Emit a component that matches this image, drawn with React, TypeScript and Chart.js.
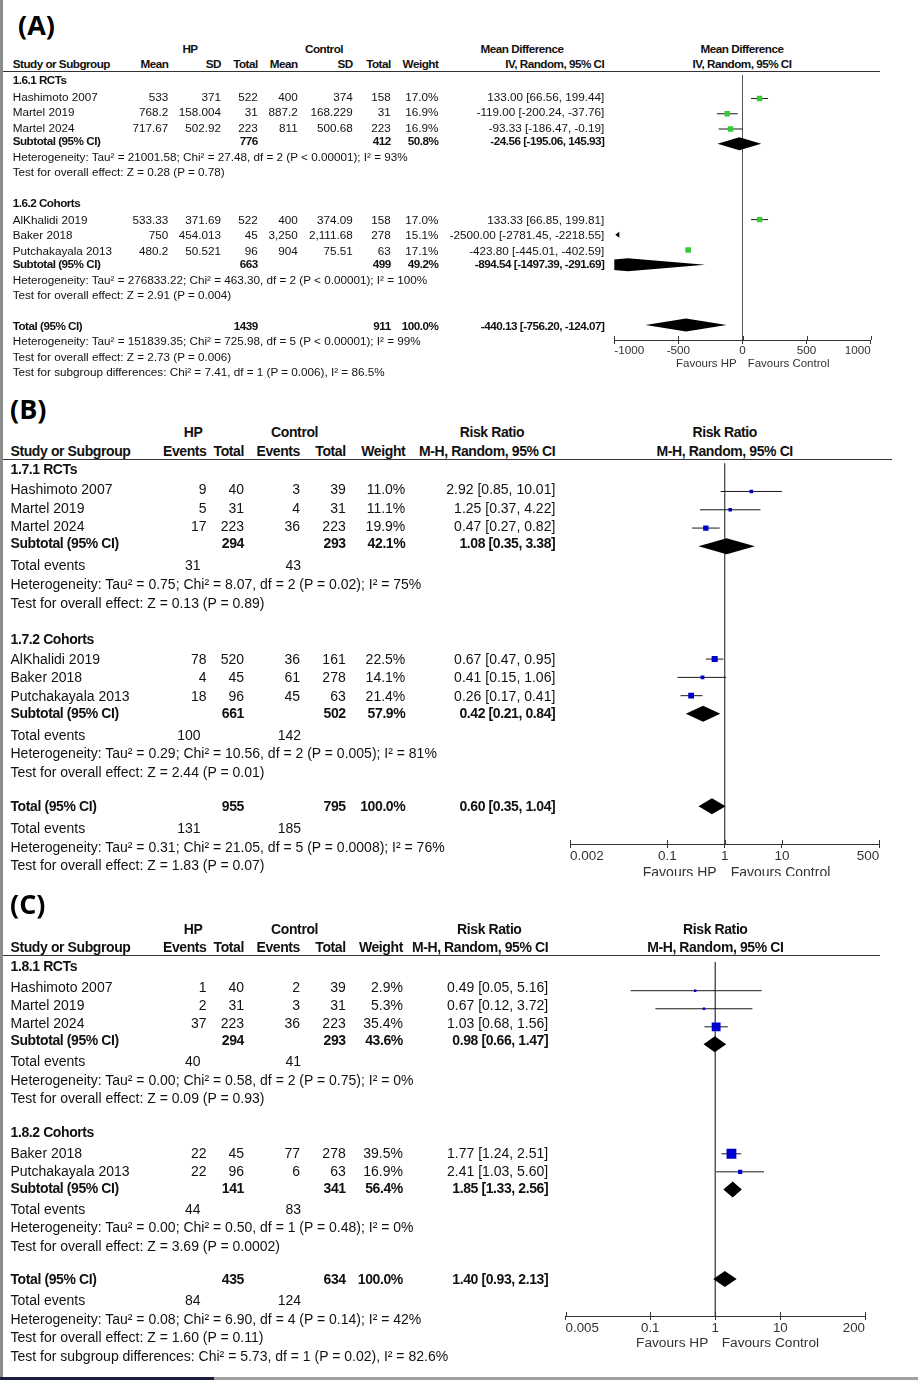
import React, { useEffect, useRef } from 'react';
import { Chart, registerables } from 'chart.js';
Chart.register(...registerables);

const FONT = "'Liberation Sans', Arial, Helvetica, sans-serif";
const LABEL_FONT = "'Open Sans', 'Noto Sans', sans-serif";
const W = 918;
const AXIS_H = 26;

// ================= Panel A : Mean Difference =================
const aStudy = ['Hashimoto 2007', 'Martel 2019', 'Martel 2024', 'AlKhalidi 2019', 'Baker 2018', 'Putchakayala 2013'];
const aGroupOf = [0, 0, 0, 1, 1, 1];
const aHpMean = ['533', '768.2', '717.67', '533.33', '750', '480.2'];
const aHpSD = ['371', '158.004', '502.92', '371.69', '454.013', '50.521'];
const aHpN = ['522', '31', '223', '522', '45', '96'];
const aCtMean = ['400', '887.2', '811', '400', '3,250', '904'];
const aCtSD = ['374', '168.229', '500.68', '374.09', '2,111.68', '75.51'];
const aCtN = ['158', '31', '223', '158', '278', '63'];
const aWeight = [17.0, 16.9, 16.9, 17.0, 15.1, 17.1];
const aMD = [133.0, -119.0, -93.33, 133.33, -2500.0, -423.8];
const aLo = [66.56, -200.24, -186.47, 66.85, -2781.45, -445.01];
const aHi = [199.44, -37.76, -0.19, 199.81, -2218.55, -402.59];
const aGroups = ['1.6.1 RCTs', '1.6.2 Cohorts'];
const aSubHpN = ['776', '663'];
const aSubCtN = ['412', '499'];
const aSubWeight = [50.8, 49.2];
const aSubMD = [-24.56, -894.54];
const aSubLo = [-195.06, -1497.39];
const aSubHi = [145.93, -291.69];
const aSubHet = [
  'Heterogeneity: Tau² = 21001.58; Chi² = 27.48, df = 2 (P < 0.00001); I² = 93%',
  'Heterogeneity: Tau² = 276833.22; Chi² = 463.30, df = 2 (P < 0.00001); I² = 100%',
];
const aSubTest = ['Test for overall effect: Z = 0.28 (P = 0.78)', 'Test for overall effect: Z = 2.91 (P = 0.004)'];
const aTotN = ['1439', '911'];
const aTotEff = [-440.13, -756.2, -124.07];
const aTotInfo = [
  'Heterogeneity: Tau² = 151839.35; Chi² = 725.98, df = 5 (P < 0.00001); I² = 99%',
  'Test for overall effect: Z = 2.73 (P = 0.006)',
  'Test for subgroup differences: Chi² = 7.41, df = 1 (P = 0.006), I² = 86.5%',
];
const aTicks = [-1000, -500, 0, 500, 1000];

// ================= Panel B : Risk Ratio =================
const bStudy = ['Hashimoto 2007', 'Martel 2019', 'Martel 2024', 'AlKhalidi 2019', 'Baker 2018', 'Putchakayala 2013'];
const bGroupOf = [0, 0, 0, 1, 1, 1];
const bHpEv = ['9', '5', '17', '78', '4', '18'];
const bHpN = ['40', '31', '223', '520', '45', '96'];
const bCtEv = ['3', '4', '36', '36', '61', '45'];
const bCtN = ['39', '31', '223', '161', '278', '63'];
const bWeight = [11.0, 11.1, 19.9, 22.5, 14.1, 21.4];
const bRR = [2.92, 1.25, 0.47, 0.67, 0.41, 0.26];
const bLo = [0.85, 0.37, 0.27, 0.47, 0.15, 0.17];
const bHi = [10.01, 4.22, 0.82, 0.95, 1.06, 0.41];
const bGroups = ['1.7.1 RCTs', '1.7.2 Cohorts'];
const bSubHpN = ['294', '661'];
const bSubCtN = ['293', '502'];
const bSubWeight = [42.1, 57.9];
const bSubRR = [1.08, 0.42];
const bSubLo = [0.35, 0.21];
const bSubHi = [3.38, 0.84];
const bSubHpEv = ['31', '100'];
const bSubCtEv = ['43', '142'];
const bSubHet = [
  'Heterogeneity: Tau² = 0.75; Chi² = 8.07, df = 2 (P = 0.02); I² = 75%',
  'Heterogeneity: Tau² = 0.29; Chi² = 10.56, df = 2 (P = 0.005); I² = 81%',
];
const bSubTest = ['Test for overall effect: Z = 0.13 (P = 0.89)', 'Test for overall effect: Z = 2.44 (P = 0.01)'];
const bTotN = ['955', '795'];
const bTotEff = [0.6, 0.35, 1.04];
const bTotEv = ['131', '185'];
const bTotInfo = [
  'Heterogeneity: Tau² = 0.31; Chi² = 21.05, df = 5 (P = 0.0008); I² = 76%',
  'Test for overall effect: Z = 1.83 (P = 0.07)',
];
const bTicks = [0.002, 0.1, 1, 10, 500];

// ================= Panel C : Risk Ratio =================
const cStudy = ['Hashimoto 2007', 'Martel 2019', 'Martel 2024', 'Baker 2018', 'Putchakayala 2013'];
const cGroupOf = [0, 0, 0, 1, 1];
const cHpEv = ['1', '2', '37', '22', '22'];
const cHpN = ['40', '31', '223', '45', '96'];
const cCtEv = ['2', '3', '36', '77', '6'];
const cCtN = ['39', '31', '223', '278', '63'];
const cWeight = [2.9, 5.3, 35.4, 39.5, 16.9];
const cRR = [0.49, 0.67, 1.03, 1.77, 2.41];
const cLo = [0.05, 0.12, 0.68, 1.24, 1.03];
const cHi = [5.16, 3.72, 1.56, 2.51, 5.6];
const cGroups = ['1.8.1 RCTs', '1.8.2 Cohorts'];
const cSubHpN = ['294', '141'];
const cSubCtN = ['293', '341'];
const cSubWeight = [43.6, 56.4];
const cSubRR = [0.98, 1.85];
const cSubLo = [0.66, 1.33];
const cSubHi = [1.47, 2.56];
const cSubHpEv = ['40', '44'];
const cSubCtEv = ['41', '83'];
const cSubHet = [
  'Heterogeneity: Tau² = 0.00; Chi² = 0.58, df = 2 (P = 0.75); I² = 0%',
  'Heterogeneity: Tau² = 0.00; Chi² = 0.50, df = 1 (P = 0.48); I² = 0%',
];
const cSubTest = ['Test for overall effect: Z = 0.09 (P = 0.93)', 'Test for overall effect: Z = 3.69 (P = 0.0002)'];
const cTotN = ['435', '634'];
const cTotEff = [1.4, 0.93, 2.13];
const cTotEv = ['84', '124'];
const cTotInfo = [
  'Heterogeneity: Tau² = 0.08; Chi² = 6.90, df = 4 (P = 0.14); I² = 42%',
  'Test for overall effect: Z = 1.60 (P = 0.11)',
  'Test for subgroup differences: Chi² = 5.73, df = 1 (P = 0.02), I² = 82.6%',
];
const cTicks = [0.005, 0.1, 1, 10, 200];

// ================= helpers =================
type Align = 'left' | 'right' | 'center';
interface Item { x: number; align: Align; text: string; bold?: boolean; y?: number }
interface Mark { est: number; lo: number; hi: number; w?: number; y?: number }
interface Row { kind: string; items: Item[]; study?: Mark; diamond?: Mark; y?: number }

const effText = (e: number, l: number, h: number) => `${e.toFixed(2)} [${l.toFixed(2)}, ${h.toFixed(2)}]`;
const pct = (w: number) => `${w.toFixed(1)}%`;
const it = (x: number, text: string, align: Align = 'right', bold = false): Item => ({ x, text, align, bold });

function layoutRows(rows: Row[], startY: number, gaps: Record<string, number>): Row[] {
  let y = startY;
  let prev = '';
  return rows.map((r, i) => {
    if (i > 0) {
      let key = r.kind;
      if (r.kind === 'study' && prev === 'group') key = 'study1';
      if (r.kind === 'info' && prev === 'info') key = 'info2';
      y += gaps[key];
    }
    prev = r.kind;
    return { ...r, y };
  });
}

function buildRowsA(L: { nameX: number; cols: number[]; eff: number }): Row[] {
  const rows: Row[] = [];
  aGroups.forEach((g, gi) => {
    rows.push({ kind: 'group', items: [it(L.nameX, g, 'left', true)] });
    aStudy.forEach((name, i) => {
      if (aGroupOf[i] !== gi) return;
      const vals = [aHpMean[i], aHpSD[i], aHpN[i], aCtMean[i], aCtSD[i], aCtN[i], pct(aWeight[i])];
      rows.push({
        kind: 'study',
        items: [it(L.nameX, name, 'left'), ...vals.map((v, k) => it(L.cols[k], v)), it(L.eff, effText(aMD[i], aLo[i], aHi[i]))],
        study: { est: aMD[i], lo: aLo[i], hi: aHi[i], w: aWeight[i] },
      });
    });
    rows.push({
      kind: 'sub',
      items: [
        it(L.nameX, 'Subtotal (95% CI)', 'left', true),
        it(L.cols[2], aSubHpN[gi], 'right', true),
        it(L.cols[5], aSubCtN[gi], 'right', true),
        it(L.cols[6], pct(aSubWeight[gi]), 'right', true),
        it(L.eff, effText(aSubMD[gi], aSubLo[gi], aSubHi[gi]), 'right', true),
      ],
      diamond: { est: aSubMD[gi], lo: aSubLo[gi], hi: aSubHi[gi] },
    });
    rows.push({ kind: 'info', items: [it(L.nameX, aSubHet[gi], 'left')] });
    rows.push({ kind: 'info', items: [it(L.nameX, aSubTest[gi], 'left')] });
  });
  rows.push({
    kind: 'total',
    items: [
      it(L.nameX, 'Total (95% CI)', 'left', true),
      it(L.cols[2], aTotN[0], 'right', true),
      it(L.cols[5], aTotN[1], 'right', true),
      it(L.cols[6], pct(100), 'right', true),
      it(L.eff, effText(aTotEff[0], aTotEff[1], aTotEff[2]), 'right', true),
    ],
    diamond: { est: aTotEff[0], lo: aTotEff[1], hi: aTotEff[2] },
  });
  aTotInfo.forEach((t) => rows.push({ kind: 'info', items: [it(L.nameX, t, 'left')] }));
  return rows;
}

function buildRowsRR(d: any, L: { nameX: number; cols: number[]; eff: number; te: number[] }): Row[] {
  const rows: Row[] = [];
  d.groups.forEach((g: string, gi: number) => {
    rows.push({ kind: 'group', items: [it(L.nameX, g, 'left', true)] });
    d.study.forEach((name: string, i: number) => {
      if (d.groupOf[i] !== gi) return;
      rows.push({
        kind: 'study',
        items: [
          it(L.nameX, name, 'left'),
          it(L.cols[0], d.hpEv[i]),
          it(L.cols[1], d.hpN[i]),
          it(L.cols[2], d.ctEv[i]),
          it(L.cols[3], d.ctN[i]),
          it(L.cols[4], pct(d.weight[i])),
          it(L.eff, effText(d.rr[i], d.lo[i], d.hi[i])),
        ],
        study: { est: d.rr[i], lo: d.lo[i], hi: d.hi[i], w: d.weight[i] },
      });
    });
    rows.push({
      kind: 'sub',
      items: [
        it(L.nameX, 'Subtotal (95% CI)', 'left', true),
        it(L.cols[1], d.subHpN[gi], 'right', true),
        it(L.cols[3], d.subCtN[gi], 'right', true),
        it(L.cols[4], pct(d.subWeight[gi]), 'right', true),
        it(L.eff, effText(d.subRR[gi], d.subLo[gi], d.subHi[gi]), 'right', true),
      ],
      diamond: { est: d.subRR[gi], lo: d.subLo[gi], hi: d.subHi[gi] },
    });
    rows.push({ kind: 'te', items: [it(L.nameX, 'Total events', 'left'), it(L.te[0], d.subHpEv[gi]), it(L.te[1], d.subCtEv[gi])] });
    rows.push({ kind: 'info', items: [it(L.nameX, d.subHet[gi], 'left')] });
    rows.push({ kind: 'info', items: [it(L.nameX, d.subTest[gi], 'left')] });
  });
  rows.push({
    kind: 'total',
    items: [
      it(L.nameX, 'Total (95% CI)', 'left', true),
      it(L.cols[1], d.totN[0], 'right', true),
      it(L.cols[3], d.totN[1], 'right', true),
      it(L.cols[4], pct(100), 'right', true),
      it(L.eff, effText(d.totEff[0], d.totEff[1], d.totEff[2]), 'right', true),
    ],
    diamond: { est: d.totEff[0], lo: d.totEff[1], hi: d.totEff[2] },
  });
  rows.push({ kind: 'te', items: [it(L.nameX, 'Total events', 'left'), it(L.te[0], d.totEv[0]), it(L.te[1], d.totEv[1])] });
  d.totInfo.forEach((t: string) => rows.push({ kind: 'info', items: [it(L.nameX, t, 'left')] }));
  return rows;
}

interface ForestSpec {
  xType: 'linear' | 'logarithmic'; xMin: number; xMax: number; ticks: number[]; nullVal: number;
  left: number; right: number; headerY: number; axisY: number; tickSize: number;
  color: string; sizeK: number; minSide: number; dh: number; dyStudy: number; dyDiamond: number;
}

function Forest({ spec, rows, panelTop }: { spec: ForestSpec; rows: Row[]; panelTop: number }) {
  const ref = useRef<HTMLCanvasElement>(null);
  const h = spec.axisY - spec.headerY + AXIS_H;
  useEffect(() => {
    const studies = rows.filter((r) => r.study).map((r) => ({ ...r.study!, y: (r.y as number) + spec.dyStudy }));
    const diamonds = rows.filter((r) => r.diamond).map((r) => ({ ...r.diamond!, y: (r.y as number) + spec.dyDiamond }));
    const side = (w: number) => Math.max(spec.minSide, w * spec.sizeK);
    const datasets: any[] = [
      {
        data: studies.map((s) => ({ x: s.est, y: s.y })),
        pointStyle: 'rect',
        pointRadius: studies.map((s) => side(s.w as number) / (2 * Math.SQRT1_2)),
        backgroundColor: spec.color,
        pointBackgroundColor: spec.color,
        pointBorderWidth: 0,
        borderWidth: 0,
      },
      ...studies.map((s) => ({
        data: [{ x: s.lo, y: s.y }, { x: s.hi, y: s.y }],
        showLine: true,
        borderColor: '#1a1a1a',
        borderWidth: 1,
        pointRadius: 0,
      })),
      {
        data: [{ x: spec.nullVal, y: spec.headerY }, { x: spec.nullVal, y: spec.axisY }],
        showLine: true,
        borderColor: '#555',
        borderWidth: 1,
        pointRadius: 0,
      },
    ];
    const extras = {
      id: 'forestExtras',
      afterDatasetsDraw(chart: any) {
        const { ctx, chartArea, scales } = chart;
        const x = scales.x;
        const y = scales.y;
        ctx.save();
        ctx.beginPath();
        ctx.rect(chartArea.left, chartArea.top, chartArea.right - chartArea.left, chartArea.bottom - chartArea.top);
        ctx.clip();
        ctx.fillStyle = '#000';
        diamonds.forEach((d) => {
          const yc = y.getPixelForValue(d.y);
          ctx.beginPath();
          ctx.moveTo(x.getPixelForValue(d.lo), yc);
          ctx.lineTo(x.getPixelForValue(d.est), yc - spec.dh);
          ctx.lineTo(x.getPixelForValue(d.hi), yc);
          ctx.lineTo(x.getPixelForValue(d.est), yc + spec.dh);
          ctx.closePath();
          ctx.fill();
        });
        ctx.restore();
        // off-scale arrows
        ctx.save();
        ctx.fillStyle = '#000';
        studies.forEach((s) => {
          if (s.hi < spec.xMin) {
            const yc = y.getPixelForValue(s.y);
            const lx = chartArea.left + 1;
            ctx.beginPath();
            ctx.moveTo(lx, yc);
            ctx.lineTo(lx + 4, yc - 3);
            ctx.lineTo(lx + 4, yc + 3);
            ctx.closePath();
            ctx.fill();
          }
        });
        // upper halves of the axis tick marks
        ctx.strokeStyle = '#333';
        ctx.lineWidth = 1;
        spec.ticks.forEach((v) => {
          const px = Math.round(x.getPixelForValue(v)) + 0.5;
          ctx.beginPath();
          ctx.moveTo(px, chartArea.bottom - 4);
          ctx.lineTo(px, chartArea.bottom);
          ctx.stroke();
        });
        ctx.restore();
      },
    };
    const chart = new Chart(ref.current as HTMLCanvasElement, {
      type: 'scatter',
      data: { datasets },
      options: {
        responsive: false,
        animation: false,
        events: [],
        layout: { padding: { left: spec.left, right: W - spec.right, top: 0, bottom: 0 } },
        plugins: { legend: { display: false }, tooltip: { enabled: false } },
        scales: {
          x: {
            type: spec.xType,
            min: spec.xMin,
            max: spec.xMax,
            position: 'bottom',
            afterBuildTicks: (sc: any) => {
              sc.ticks = spec.ticks.map((v) => ({ value: v }));
            },
            afterFit: (sc: any) => {
              sc.height = AXIS_H;
            },
            ticks: {
              callback: (v: any) => String(v),
              font: { family: FONT, size: spec.tickSize },
              color: '#333',
              padding: 0,
              align: 'inner',
              maxRotation: 0,
              minRotation: 0,
              autoSkip: false,
            },
            grid: { drawOnChartArea: false, drawTicks: true, tickLength: 4, color: '#333', lineWidth: 1 },
            border: { display: true, color: '#333', width: 1 },
          },
          y: { type: 'linear', min: spec.headerY, max: spec.axisY, reverse: true, display: false },
        },
      } as any,
      plugins: [extras],
    });
    return () => chart.destroy();
  }, []);
  return (
    <canvas
      ref={ref}
      width={W}
      height={h}
      style={{ position: 'absolute', left: 0, top: spec.headerY - panelTop, width: W, height: h }}
    />
  );
}

function Txt({ item, y, top, size, ls, color, family }: any) {
  const st: React.CSSProperties = {
    position: 'absolute',
    top: y - top,
    whiteSpace: 'pre',
    fontFamily: family || FONT,
    fontSize: size,
    lineHeight: `${size}px`,
    fontWeight: item.bold ? 700 : 400,
    color: color || '#111',
    letterSpacing: item.bold ? ls : 0,
    transform: 'translateY(-50%)',
  };
  if (item.align === 'left') st.left = item.x;
  else if (item.align === 'right') st.right = W - item.x;
  else {
    st.left = item.x;
    st.transform = 'translate(-50%, -50%)';
  }
  return <div style={st}>{item.text}</div>;
}

function Panel({ p }: { p: any }) {
  return (
    <div style={{ position: 'absolute', left: 0, top: p.top, width: W, height: p.height, overflow: 'hidden' }}>
      <Forest spec={p.forest} rows={p.rows} panelTop={p.top} />
      <div style={{ position: 'absolute', left: 3, top: Math.round(p.lineY - p.top), width: p.lineX2 - 3, height: 1, background: '#333' }} />
      <Txt item={{ x: p.labelX, align: 'left', text: p.label, bold: true }} y={p.labelY} top={p.top} size={27} ls={0} color="#000" family={LABEL_FONT} />
      {p.headers.map((h: Item, i: number) => (
        <Txt key={'h' + i} item={h} y={h.y} top={p.top} size={p.size} ls={p.boldLS} />
      ))}
      {p.rows.map((r: Row, ri: number) =>
        r.items.map((c, ci) => <Txt key={ri + '-' + ci} item={c} y={r.y} top={p.top} size={p.size} ls={p.boldLS} />)
      )}
      <Txt item={{ x: p.fav.hpRight, align: 'right', text: 'Favours HP' }} y={p.fav.y} top={p.top} size={p.fav.size} color="#333" />
      <Txt item={{ x: p.fav.ctlLeft, align: 'left', text: 'Favours Control' }} y={p.fav.y} top={p.top} size={p.fav.size} color="#333" />
    </div>
  );
}

const aLayout = { nameX: 12.7, cols: [168.3, 221, 257.7, 297.7, 352.7, 390.7, 438.3], eff: 604.3 };
const bLayout = { nameX: 10.5, cols: [206.5, 244, 300, 345.7, 405.3], eff: 555.3, te: [200.5, 301] };
const cLayout = { nameX: 10.5, cols: [206.5, 244, 300, 345.7, 402.9], eff: 548.2, te: [200.5, 301] };

function headerItems(y1: number, y2: number, L: any, top1: [string, number][], colNames: string[], effHead: [string, string], effHeadX: number, plotX: number, nameX: number): Item[] {
  const out: Item[] = top1.map(([t, x]) => ({ x, y: y1, text: t, align: 'center' as Align, bold: true }));
  out.push({ x: effHeadX, y: y1, text: effHead[0], align: 'center', bold: true });
  out.push({ x: plotX, y: y1, text: effHead[0], align: 'center', bold: true });
  out.push({ x: nameX, y: y2, text: 'Study or Subgroup', align: 'left', bold: true });
  colNames.forEach((c, k) => out.push({ x: L.cols[k], y: y2, text: c, align: 'right', bold: true }));
  out.push({ x: L.eff, y: y2, text: effHead[1], align: 'right', bold: true });
  out.push({ x: plotX, y: y2, text: effHead[1], align: 'center', bold: true });
  return out;
}

function buildPanels() {
  const dataB = {
    study: bStudy, groupOf: bGroupOf, hpEv: bHpEv, hpN: bHpN, ctEv: bCtEv, ctN: bCtN, weight: bWeight, rr: bRR, lo: bLo, hi: bHi,
    groups: bGroups, subHpN: bSubHpN, subCtN: bSubCtN, subWeight: bSubWeight, subRR: bSubRR, subLo: bSubLo, subHi: bSubHi,
    subHpEv: bSubHpEv, subCtEv: bSubCtEv, subHet: bSubHet, subTest: bSubTest, totN: bTotN, totEff: bTotEff, totEv: bTotEv, totInfo: bTotInfo,
  };
  const dataC = {
    study: cStudy, groupOf: cGroupOf, hpEv: cHpEv, hpN: cHpN, ctEv: cCtEv, ctN: cCtN, weight: cWeight, rr: cRR, lo: cLo, hi: cHi,
    groups: cGroups, subHpN: cSubHpN, subCtN: cSubCtN, subWeight: cSubWeight, subRR: cSubRR, subLo: cSubLo, subHi: cSubHi,
    subHpEv: cSubHpEv, subCtEv: cSubCtEv, subHet: cSubHet, subTest: cSubTest, totN: cTotN, totEff: cTotEff, totEv: cTotEv, totInfo: cTotInfo,
  };
  const headA = headerItems(49, 64, aLayout, [['HP', 190], ['Control', 324]], ['Mean', 'SD', 'Total', 'Mean', 'SD', 'Total', 'Weight'], ['Mean Difference', 'IV, Random, 95% CI'], 522, 742, aLayout.nameX);
  const headB = headerItems(432, 451, bLayout, [['HP', 193], ['Control', 294.6]], ['Events', 'Total', 'Events', 'Total', 'Weight'], ['Risk Ratio', 'M-H, Random, 95% CI'], 492, 724.7, bLayout.nameX);
  const headC = headerItems(929, 946.7, cLayout, [['HP', 193], ['Control', 294.6]], ['Events', 'Total', 'Events', 'Total', 'Weight'], ['Risk Ratio', 'M-H, Random, 95% CI'], 489.3, 715.3, cLayout.nameX);
  return [
    {
      top: 0, height: 385, label: '(A)', labelX: 18, labelY: 24, size: 11.7, boldLS: -0.5,
      headers: headA,
      rows: layoutRows(buildRowsA(aLayout), 80, { study1: 16.9, study: 15.45, sub: 13.6, te: 0, info: 15.6, info2: 15.4, group: 30.5, total: 30.2 }),
      lineY: 70.5, lineX2: 880,
      forest: { xType: 'linear', xMin: -1000, xMax: 1000, ticks: aTicks, nullVal: 0, left: 614.3, right: 870.7, headerY: 71, axisY: 340, tickSize: 11.7, color: '#33cc33', sizeK: 0.32, minSide: 3, dh: 6.5, dyStudy: -2, dyDiamond: -0.7 },
      fav: { y: 364.3, hpRight: 736.7, ctlLeft: 747.7, size: 11.5 },
    },
    {
      top: 385, height: 491, label: '(B)', labelX: 10, labelY: 408, size: 14, boldLS: -0.4,
      headers: headB,
      rows: layoutRows(buildRowsRR(dataB, bLayout), 469, { study1: 20.3, study: 18.5, sub: 16.8, te: 22.2, info: 18.6, info2: 18.6, group: 36, total: 34 }),
      lineY: 459, lineX2: 891.7,
      forest: { xType: 'logarithmic', xMin: 0.002, xMax: 500, ticks: bTicks, nullVal: 1, left: 570, right: 879.3, headerY: 459, axisY: 844, tickSize: 13.5, color: '#0000cc', sizeK: 0.27, minSide: 3.5, dh: 8, dyStudy: -1.8, dyDiamond: -0.3 },
      fav: { y: 871.7, hpRight: 716.7, ctlLeft: 730.7, size: 14 },
    },
    {
      top: 876, height: 504, label: '(C)', labelX: 10, labelY: 903, size: 14, boldLS: -0.4,
      headers: headC,
      rows: layoutRows(buildRowsRR(dataC, cLayout), 966, { study1: 20.5, study: 18.4, sub: 16.5, te: 21.2, info: 18.5, info2: 18.5, group: 34.3, total: 33.2 }),
      lineY: 955, lineX2: 880,
      forest: { xType: 'logarithmic', xMin: 0.005, xMax: 200, ticks: cTicks, nullVal: 1, left: 565.6, right: 865, headerY: 955, axisY: 1316, tickSize: 13.3, color: '#0000cc', sizeK: 0.25, minSide: 2.5, dh: 8, dyStudy: -2.2, dyDiamond: -0.8 },
      fav: { y: 1343.3, hpRight: 708.3, ctlLeft: 721.7, size: 13.7 },
    },
  ];
}

export default function App() {
  const panels = buildPanels();
  return (
    <div style={{ position: 'absolute', left: 0, top: 0, width: W, height: 1380, background: '#fff', overflow: 'hidden' }}>
      {panels.map((p, i) => (
        <Panel key={i} p={p} />
      ))}
      <div style={{ position: 'absolute', left: 0, top: 0, width: 3, height: 1380, background: '#8c8c8c' }} />
      <div style={{ position: 'absolute', left: 0, top: 1377, width: 214, height: 3, background: '#1c1c40' }} />
      <div style={{ position: 'absolute', left: 214, top: 1377, width: W - 214, height: 3, background: '#a0a0a0' }} />
    </div>
  );
}
